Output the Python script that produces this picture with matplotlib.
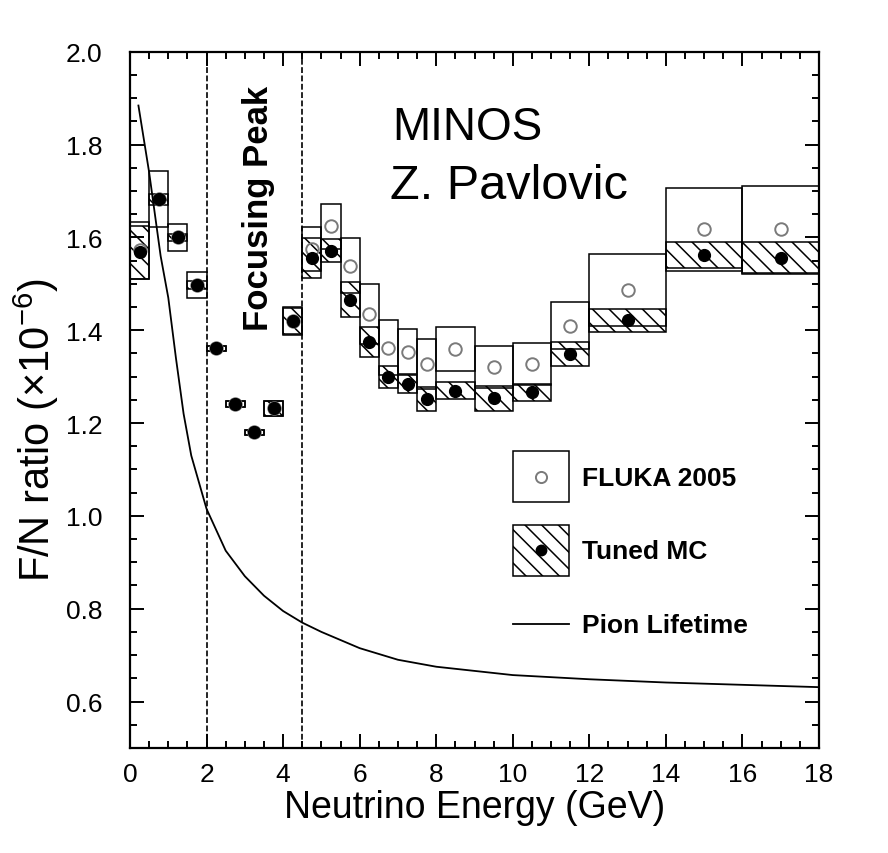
import numpy as np
import matplotlib
matplotlib.use('Agg')
import matplotlib.pyplot as plt
from matplotlib.patches import Rectangle
from matplotlib.lines import Line2D
from matplotlib.legend_handler import HandlerTuple, HandlerLine2D

plt.rcParams['font.family'] = ['Liberation Sans', 'DejaVu Sans']
plt.rcParams['mathtext.fontset'] = 'custom'
plt.rcParams['mathtext.rm'] = 'Liberation Sans'
plt.rcParams['mathtext.it'] = 'Liberation Sans:italic'
plt.rcParams['hatch.linewidth'] = 1.1

# %% data
bin_lo = [0.0, 0.5, 1.0, 1.5, 2.0, 2.5, 3.0, 3.5, 4.0, 4.5, 5.0, 5.5,
          6.0, 6.5, 7.0, 7.5, 8.0, 9.0, 10.0, 11.0, 12.0, 14.0, 16.0]
bin_hi = [0.5, 1.0, 1.5, 2.0, 2.5, 3.0, 3.5, 4.0, 4.5, 5.0, 5.5, 6.0,
          6.5, 7.0, 7.5, 8.0, 9.0, 10.0, 11.0, 12.0, 14.0, 16.0, 18.0]
fluka_val = [1.572, 1.682, 1.600, 1.497, 1.361, 1.241, 1.180, 1.232, 1.419,
             1.575, 1.624, 1.539, 1.435, 1.362, 1.354, 1.327, 1.360, 1.320,
             1.327, 1.410, 1.487, 1.617, 1.617]
fluka_err = [0.061, 0.060, 0.029, 0.028, 0.006, 0.006, 0.006, 0.016, 0.030,
             0.047, 0.048, 0.059, 0.065, 0.059, 0.049, 0.053, 0.047, 0.045,
             0.046, 0.050, 0.077, 0.089, 0.094]
tuned_val = [1.568, 1.682, 1.600, 1.497, 1.361, 1.241, 1.180, 1.232, 1.419,
             1.555, 1.571, 1.466, 1.375, 1.299, 1.284, 1.252, 1.270, 1.253,
             1.266, 1.349, 1.421, 1.562, 1.555]
tuned_err = [0.057, 0.012, 0.008, 0.008, 0.006, 0.006, 0.006, 0.016, 0.028,
             0.043, 0.025, 0.038, 0.032, 0.023, 0.020, 0.026, 0.018, 0.026,
             0.019, 0.026, 0.025, 0.027, 0.035]

pion_E = [0.22, 0.5, 0.65, 0.8, 1.0, 1.2, 1.4, 1.6, 2.0, 2.5, 3.0, 3.5, 4.0,
          4.5, 5.0, 6.0, 7.0, 8.0, 10.0, 12.0, 14.0, 16.0, 18.0]
pion_ratio = [1.884, 1.74, 1.65, 1.56, 1.47, 1.34, 1.22, 1.13, 1.015, 0.925,
              0.870, 0.828, 0.795, 0.770, 0.750, 0.715, 0.690, 0.675, 0.657,
              0.648, 0.641, 0.636, 0.631]

focus_edges = [2.0, 4.5]


# legend lines/markers centred on the handle box like the patches
class HandlerLineMid(HandlerLine2D):
    def create_artists(self, legend, orig_handle, xdescent, ydescent,
                       width, height, fontsize, trans):
        return super().create_artists(legend, orig_handle, xdescent,
                                      2 * ydescent, width, height,
                                      fontsize, trans)


# %%
lo = np.array(bin_lo)
hi = np.array(bin_hi)
mid = 0.5 * (lo + hi)
fv, fe = np.array(fluka_val), np.array(fluka_err)
tv, te = np.array(tuned_val), np.array(tuned_err)

fig, ax = plt.subplots(figsize=(8.88, 8.54), dpi=100)
fig.subplots_adjust(left=0.1464, right=0.9223, bottom=0.1230, top=0.9383)

ax.bar(lo, 2 * fe, width=hi - lo, bottom=fv - fe, align='edge',
       fill=False, edgecolor='black', linewidth=1.1, zorder=2)
ax.bar(lo, 2 * te, width=hi - lo, bottom=tv - te, align='edge',
       fill=False, edgecolor='black', linewidth=1.1, hatch='\\\\', zorder=2)
ax.plot(mid, fv, 'o', mfc='none', mec='#7a7a7a', mew=1.4, ms=9, zorder=3)
ax.plot(mid, tv, 'o', color='black', ms=8.5, zorder=4)

ax.plot(pion_E, pion_ratio, '-', color='black', lw=1.3, zorder=3)

for e in focus_edges:
    ax.axvline(e, color='black', lw=1.2, ls=(0, (3.5, 1.5)), zorder=1)

ax.set_xlim(0, 18)
ax.set_ylim(0.5, 2.0)
ax.set_xticks(np.arange(0, 19, 2))
ax.set_xticks(np.arange(0, 18.01, 0.5), minor=True)
ax.set_yticks(np.arange(0.6, 2.01, 0.2))
ax.set_yticks(np.arange(0.5, 2.001, 0.05), minor=True)
ax.set_xticklabels([str(v) for v in range(0, 19, 2)])
ax.tick_params(which='both', direction='in', top=True, right=True, width=1.4)
ax.tick_params(which='major', length=10)
ax.tick_params(which='minor', length=5)
ax.tick_params(axis='x', labelsize=19, pad=10)
ax.tick_params(axis='y', labelsize=19, pad=20)
for s in ax.spines.values():
    s.set_linewidth(1.6)

ax.set_xlabel('Neutrino Energy (GeV)', fontsize=27, labelpad=2)
ax.set_ylabel(r'F/N ratio ($\times$10$^{-6}$)', fontsize=30)
ax.yaxis.set_label_coords(-0.1, 0.458)

ax.text(0.186, 0.776, 'Focusing Peak', transform=ax.transAxes, rotation=90,
        ha='center', va='center', fontsize=25, fontweight='bold')
ax.text(0.380, 0.8746, 'MINOS', transform=ax.transAxes, fontsize=33,
        va='baseline')
ax.text(0.377, 0.7899, 'Z. Pavlovic', transform=ax.transAxes, fontsize=35,
        va='baseline')

h_fluka = (Rectangle((0, 0), 1, 1, fill=False, edgecolor='black', lw=1.1),
           Line2D([], [], ls='none', marker='o', mfc='none', mec='#7a7a7a',
                  mew=1.4, ms=8))
h_tuned = (Rectangle((0, 0), 1, 1, fill=False, edgecolor='black', lw=1.1,
                     hatch='\\\\'),
           Line2D([], [], ls='none', marker='o', color='black', ms=7.5))
h_pion = Line2D([], [], color='black', lw=1.3)
leg = ax.legend([h_fluka, h_tuned, h_pion],
                ['FLUKA 2005', 'Tuned MC', 'Pion Lifetime'],
                handler_map={tuple: HandlerTuple(ndivide=1, pad=0),
                             Line2D: HandlerLineMid()},
                loc='upper left', bbox_to_anchor=(0.556, 0.426),
                frameon=False, borderpad=0, borderaxespad=0,
                handlelength=2.1, handleheight=2.6, labelspacing=0.85,
                handletextpad=0.5, prop={'size': 19, 'weight': 'bold'})

plt.savefig('out.png', dpi=100)
